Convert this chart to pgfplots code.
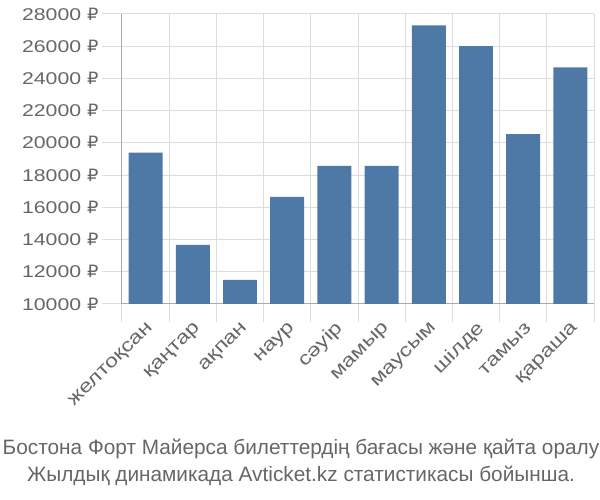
\documentclass[border=0pt]{standalone}
\usepackage{pgfplots}
\pgfplotsset{compat=1.18}
\usepackage{fontspec}
\setmainfont{Liberation Sans}
\newfontfamily\tickfont[FakeStretch=1.25]{Liberation Sans}
\newfontfamily\rubfont[FakeStretch=1.05]{DejaVu Sans}
\newcommand{\rub}{{\rubfont ₽}}
\definecolor{barblue}{HTML}{4E79A7}
\definecolor{gridc}{HTML}{DDDDDD}
\definecolor{axc}{HTML}{AAAAAA}
\definecolor{txt}{HTML}{666666}
\begin{document}
\begin{tikzpicture}[x=1pt,y=1pt]
\useasboundingbox (0,0) rectangle (600,500);
\begin{axis}[
  at={(122pt,196pt)}, anchor=south west,
  scale only axis, width=472pt, height=290pt,
  xmin=-0.5, xmax=9.5, ymin=10000, ymax=28000,
  axis x line*=bottom, axis y line*=left,
  axis line style={axc, line width=1pt},
  scaled y ticks=false,
  ytick={10000,12000,...,28000},
  yticklabels={{10000 \rub},{12000 \rub},{14000 \rub},{16000 \rub},{18000 \rub},{20000 \rub},{22000 \rub},{24000 \rub},{26000 \rub},{28000 \rub}},
  xtick={0,...,9},
  xticklabels={желтоқсан,қаңтар,ақпан,наур,сәуір,мамыр,маусым,шілде,тамыз,қараша},
  minor xtick={-0.5,0.5,...,9.5},
  ymajorgrids=true, xminorgrids=true, xmajorgrids=false,
  grid style={gridc, line width=1pt},
  tick align=outside,
  major tick length=20pt, minor tick length=18pt,
  major x tick style={draw=none},
  minor x tick style={gridc, line width=1pt},
  major y tick style={gridc, line width=1pt},
  yticklabel style={font=\tickfont\fontsize{17}{17}\selectfont, text=txt},
  xticklabel style={font=\tickfont\fontsize{18.5}{18.5}\selectfont, text=txt, rotate=45, anchor=east, xshift=6pt, yshift=-5pt},
  clip=false,
]
\addplot[ybar, bar width=0.72, fill=barblue, draw=none] coordinates {
  (0,19400) (1,13670) (2,11500) (3,16650) (4,18570) (5,18570) (6,27290) (7,26010) (8,20550) (9,24680)
};
\end{axis}
\node[anchor=base, text=txt, font=\fontsize{20.8}{24}\selectfont] at (301,45) {Бостона Форт Майерса билеттердің бағасы және қайта оралу};
\node[anchor=base, text=txt, font=\fontsize{20.8}{24}\selectfont] at (301,18) {Жылдық динамикада Avticket.kz статистикасы бойынша.};
\end{tikzpicture}
\end{document}
